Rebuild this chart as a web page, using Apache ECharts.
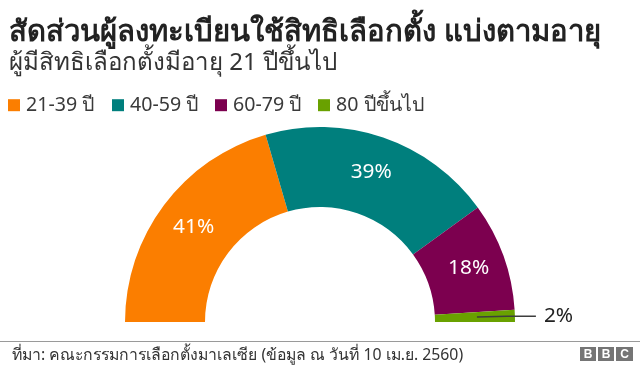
<!DOCTYPE html>
<html><head><meta charset="utf-8">
<script src="https://cdn.jsdelivr.net/npm/echarts@6/dist/echarts.min.js"></script>
<style>html,body{margin:0;padding:0;background:#fff}#c{width:640px;height:367px}</style>
</head><body><div id="c"></div>
<script>
const categories = ['21-39 ปี', '40-59 ปี', '60-79 ปี', '80 ปีขึ้นไป'];
const values = [41, 39, 18, 2];
const colors = ['#fb7e00', '#007f7d', '#7c004f', '#69a100'];
const titleText = 'สัดส่วนผู้ลงทะเบียนใช้สิทธิเลือกตั้ง แบ่งตามอายุ';
const subtitleText = 'ผู้มีสิทธิเลือกตั้งมีอายุ 21 ปีขึ้นไป';
const sourceText = 'ที่มา: คณะกรรมการเลือกตั้งมาเลเซีย (ข้อมูล ณ วันที่ 10 เม.ย. 2560)';

const font = '"Noto Sans", sans-serif';
const ctx = document.createElement('canvas').getContext('2d');
function fit(text, target, weight) {
  ctx.font = (weight || 'normal') + ' 100px ' + font;
  return Math.round(100 * target / ctx.measureText(text).width * 10) / 10;
}
const titleSize = fit(titleText, 593, 'bold');
const subSize = fit(subtitleText, 328);
const footSize = fit(sourceText, 454);
const legSize = (fit(categories[3], 87) + fit(categories[2], 70)) / 2;
const labelSize = fit('41%', 41);

const total = values.reduce((a, b) => a + b, 0);
const data = categories.map((n, i) => ({ name: n, value: values[i], itemStyle: { color: colors[i] } }));
const hidden = { name: '_hidden', value: total, itemStyle: { color: 'rgba(0,0,0,0)' }, label: { show: false }, labelLine: { show: false } };

// second, invisible ring used only for the callout of the small slice
const calloutData = categories.map((n, i) => {
  const small = i === categories.length - 1;
  return {
    name: n, value: values[i], itemStyle: { color: 'rgba(0,0,0,0)' },
    label: { show: small }, labelLine: { show: small }
  };
});

const legendLefts = [8, 112, 215, 318];
const chart = echarts.init(document.getElementById('c'));
chart.setOption({
  animation: false,
  textStyle: { fontFamily: font },
  title: [
    { text: titleText, left: 9, top: 33 - titleSize / 2, padding: 0, textStyle: { fontSize: titleSize, lineHeight: titleSize, fontWeight: 'bold', color: '#222', fontFamily: font } },
    { text: subtitleText, left: 9, top: 63 - subSize / 2, padding: 0, textStyle: { fontSize: subSize, lineHeight: subSize, fontWeight: 'normal', color: '#333', fontFamily: font } }
  ],
  legend: categories.map((c, i) => ({
    data: [c], left: legendLefts[i], top: 105 - legSize / 2, padding: 0, icon: 'rect', itemWidth: 12, itemHeight: 12,
    textStyle: { fontSize: legSize, lineHeight: legSize, color: '#3a3a3a', fontFamily: font, padding: [0, 0, 0, 1] }, selectedMode: false
  })),
  series: [{
    type: 'pie', center: [320, 322], radius: [115, 195], startAngle: 180, clockwise: true,
    avoidLabelOverlap: false, silent: true,
    label: { show: true, position: 'inside', formatter: (p) => (p.name === categories[3] ? '' : p.value + '%'), color: '#fff', fontSize: labelSize, fontFamily: font },
    labelLine: { show: false },
    data: data.concat([hidden])
  }, {
    type: 'pie', center: [320, 322], radius: [0, 157], startAngle: 180, clockwise: true,
    avoidLabelOverlap: false, silent: true, z: 3,
    label: { position: 'outside', formatter: '{c}%', color: '#222', fontSize: labelSize, fontFamily: font, distanceToLabelLine: 8 },
    labelLine: { length: 30, length2: 29, smooth: false, lineStyle: { color: '#3d3d3d', width: 1.5 } },
    data: calloutData.concat([hidden])
  }],
  graphic: [
    { type: 'line', shape: { x1: 0, y1: 341.5, x2: 640, y2: 341.5 }, style: { stroke: '#9a9a9a', lineWidth: 1 } },
    { type: 'text', x: 12, y: 355, style: { text: sourceText, fontSize: footSize, fill: '#333', fontFamily: font, verticalAlign: 'middle' } },
    { type: 'group', x: 580, y: 347, children: [
      { type: 'rect', shape: { x: 0, y: 0, width: 16, height: 14 }, style: { fill: '#757575' } },
      { type: 'text', x: 8, y: 7.5, style: { text: 'B', fill: '#fff', fontSize: 12, fontWeight: 'bold', align: 'center', verticalAlign: 'middle', fontFamily: 'Liberation Sans' } },
      { type: 'rect', shape: { x: 18, y: 0, width: 16, height: 14 }, style: { fill: '#757575' } },
      { type: 'text', x: 26, y: 7.5, style: { text: 'B', fill: '#fff', fontSize: 12, fontWeight: 'bold', align: 'center', verticalAlign: 'middle', fontFamily: 'Liberation Sans' } },
      { type: 'rect', shape: { x: 36, y: 0, width: 17, height: 14 }, style: { fill: '#757575' } },
      { type: 'text', x: 44.5, y: 7.5, style: { text: 'C', fill: '#fff', fontSize: 12, fontWeight: 'bold', align: 'center', verticalAlign: 'middle', fontFamily: 'Liberation Sans' } }
    ]}
  ]
});
</script></body></html>
